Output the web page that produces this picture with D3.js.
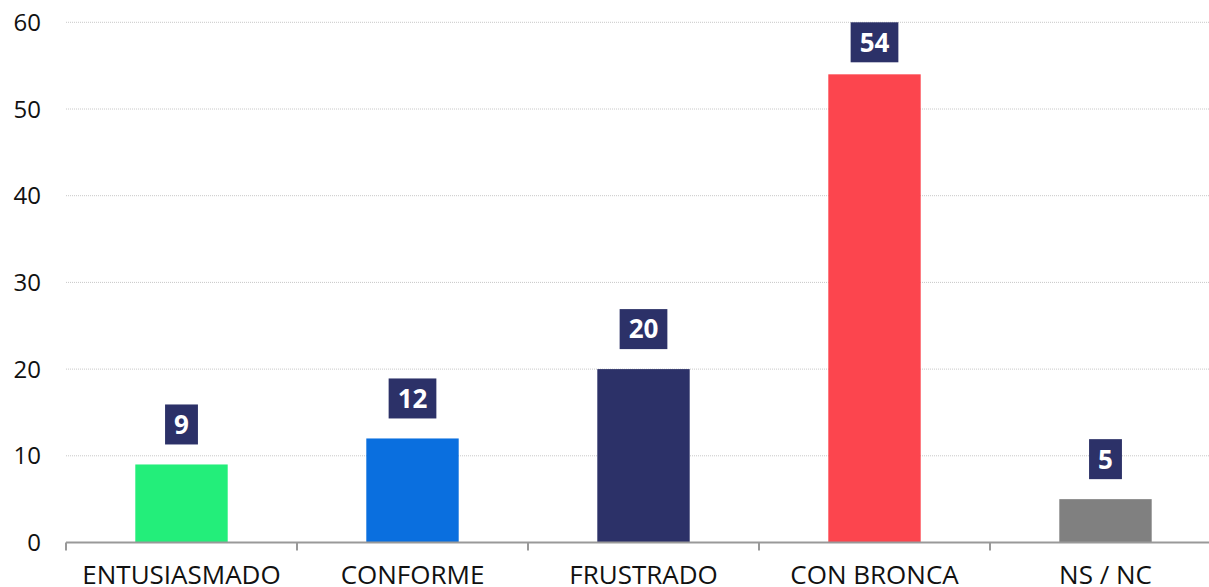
<!DOCTYPE html>
<html>
<head>
<meta charset="utf-8">
<script src="https://cdn.jsdelivr.net/npm/d3@7"></script>
<style>
  body { margin: 0; background: #fff; }
  svg { display: block; font-family: "Open Sans", "Noto Sans", sans-serif; }
</style>
</head>
<body>
<div id="chart-area"></div>
<script>
const width = 1209, height = 587;
const margin = ({top: 22.3, right: -12, bottom: 44.5, left: 66});

// Data
const categories = ["ENTUSIASMADO", "CONFORME", "FRUSTRADO", "CON BRONCA", "NS / NC"];
const values = [9, 12, 20, 54, 5];
const barColors = ["#23ee7a", "#0a6fdf", "#2c3168", "#fc454e", "#808080"];
const yTicks = [0, 10, 20, 30, 40, 50, 60];

const data = categories.map((c, i) => ({name: c, value: values[i], color: barColors[i]}));

const svg = d3.select("#chart-area").append("svg")
    .attr("width", width)
    .attr("height", height);

const x = d3.scaleBand()
    .domain(categories)
    .range([margin.left, width - margin.right])
    .paddingInner(0.6)
    .paddingOuter(0.3);

const y = d3.scaleLinear()
    .domain([0, 60])
    .range([height - margin.bottom, margin.top]);

// grid lines
svg.append("g")
    .selectAll("line")
    .data(yTicks.filter(d => d > 0))
    .enter().append("line")
    .attr("x1", margin.left)
    .attr("x2", width)
    .attr("y1", d => y(d))
    .attr("y2", d => y(d))
    .attr("stroke", "#c8c8c8")
    .attr("stroke-width", 1)
    .attr("stroke-dasharray", "1,1");

// y labels
svg.append("g")
    .selectAll("text")
    .data(yTicks)
    .enter().append("text")
    .attr("x", 41)
    .attr("y", d => y(d))
    .attr("dy", "0.36em")
    .attr("text-anchor", "end")
    .attr("font-size", 24)
    .attr("fill", "#111")
    .text(d => d);

// bars
svg.append("g")
    .selectAll("rect")
    .data(data)
    .enter().append("rect")
    .attr("x", d => x(d.name))
    .attr("y", d => y(d.value))
    .attr("width", x.bandwidth())
    .attr("height", d => y(0) - y(d.value))
    .attr("fill", d => d.color);

// x axis
const xAxis = g => g
    .attr("transform", `translate(0,${y(0)})`)
    .call(d3.axisBottom(x).tickSize(0).tickPadding(23))
    .attr("font-family", null)
    .attr("font-size", null)
    .call(g => g.select(".domain").remove())
    .call(g => g.selectAll("text").attr("font-size", 26).attr("fill", "#111"));

const axisG = svg.append("g").call(xAxis);

axisG.append("line")
    .attr("x1", margin.left)
    .attr("x2", width)
    .attr("stroke", "#999")
    .attr("stroke-width", 2);

const step = x.step();
const bounds = d3.range(categories.length + 1).map(i => margin.left + i * step);
axisG.selectAll(".bound")
    .data(bounds)
    .enter().append("line")
    .attr("class", "bound")
    .attr("x1", d => d)
    .attr("x2", d => d)
    .attr("y1", 0)
    .attr("y2", 8)
    .attr("stroke", "#999")
    .attr("stroke-width", 2);

// value labels
const labels = svg.append("g")
    .selectAll("g")
    .data(data)
    .enter().append("g");

labels.each(function(d) {
    const g = d3.select(this);
    const cx = x(d.name) + x.bandwidth() / 2;
    const boxH = 40;
    let top = y(d.value) - 20 - boxH;
    if (top < margin.top) top = margin.top;
    const rect = g.append("rect").attr("fill", "#2c3168");
    const t = g.append("text")
        .attr("x", cx)
        .attr("y", top + boxH / 2)
        .attr("dy", "0.36em")
        .attr("text-anchor", "middle")
        .attr("font-size", 26)
        .attr("font-weight", "bold")
        .attr("fill", "#fff")
        .text(d.value);
    const w = t.node().getComputedTextLength() + 18;
    rect.attr("x", cx - w / 2)
        .attr("y", top)
        .attr("width", w)
        .attr("height", boxH);
});
</script>
</body>
</html>
